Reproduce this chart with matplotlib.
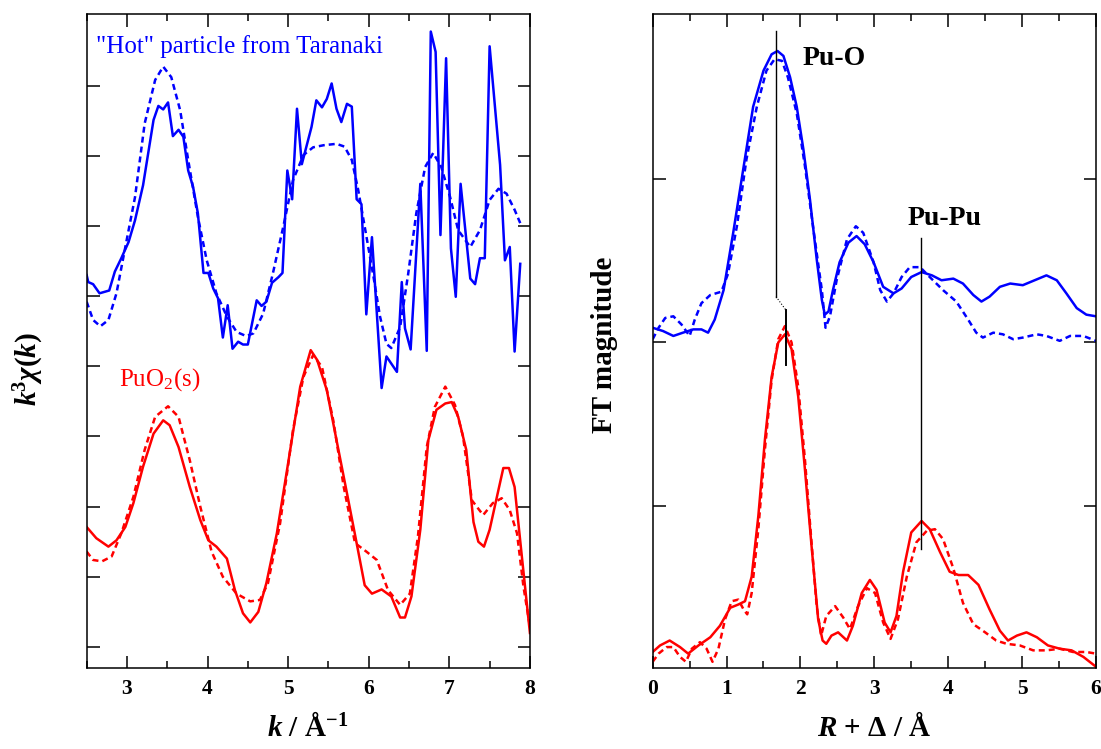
import matplotlib.pyplot as plt
from matplotlib.ticker import MultipleLocator

plt.rcParams['font.family'] = ['Liberation Serif', 'DejaVu Serif']
plt.rcParams['mathtext.fontset'] = 'custom'
plt.rcParams['mathtext.rm'] = 'Liberation Serif'
plt.rcParams['mathtext.it'] = 'Liberation Serif:italic'
plt.rcParams['mathtext.bf'] = 'Liberation Serif:bold'
plt.rcParams['mathtext.bfit'] = 'Liberation Serif:italic:bold'

# ---- k-space (left): "hot" particle, data (solid) and fit (dashed) ----
hot_k = [2.50, 2.52, 2.58, 2.66, 2.78, 2.85, 2.93, 3.02, 3.10, 3.20,
         3.33, 3.39, 3.45, 3.51, 3.57, 3.64, 3.70, 3.76, 3.82, 3.88,
         3.95, 4.01, 4.07, 4.13, 4.19, 4.25, 4.31, 4.38, 4.44, 4.50,
         4.61, 4.67, 4.73, 4.80, 4.88, 4.93, 4.99, 5.05, 5.11, 5.17,
         5.29, 5.35, 5.42, 5.48, 5.54, 5.60, 5.66, 5.73, 5.79, 5.85,
         5.91, 5.97, 6.04, 6.16, 6.22, 6.35, 6.41, 6.45, 6.52, 6.64,
         6.72, 6.77, 6.83, 6.89, 6.96, 7.02, 7.08, 7.14, 7.26, 7.32,
         7.38, 7.44, 7.50, 7.63, 7.69, 7.75, 7.81, 7.88]
hot_chi = [5.30, 5.20, 5.17, 5.04, 5.08, 5.35, 5.54, 5.77, 6.08, 6.58,
           7.51, 7.71, 7.66, 7.76, 7.28, 7.37, 7.27, 6.79, 6.56, 6.18,
           5.33, 5.33, 5.11, 4.97, 4.41, 4.87, 4.25, 4.35, 4.31, 4.31,
           4.94, 4.86, 4.92, 5.19, 5.27, 5.33, 6.79, 6.38, 7.67, 6.88,
           7.41, 7.79, 7.69, 7.81, 8.03, 7.67, 7.48, 7.74, 7.70, 6.38,
           6.31, 4.74, 5.84, 3.69, 4.14, 3.92, 5.20, 4.54, 4.24, 6.60,
           4.22, 8.77, 8.48, 5.87, 8.39, 5.68, 4.99, 6.60, 5.25, 5.17,
           5.54, 5.54, 8.56, 6.87, 5.51, 5.70, 4.21, 5.46]

hot_fit_k = [2.50, 2.58, 2.67, 2.77, 2.87, 2.98, 3.10, 3.22, 3.35, 3.45,
             3.55, 3.66, 3.76, 3.88, 3.99, 4.11, 4.24, 4.36, 4.48, 4.57,
             4.69, 4.81, 4.94, 5.06, 5.19, 5.31, 5.44, 5.60, 5.70, 5.79,
             5.87, 5.95, 6.06, 6.14, 6.22, 6.28, 6.39, 6.49, 6.59, 6.70,
             6.80, 6.90, 7.01, 7.11, 7.26, 7.38, 7.50, 7.61, 7.71, 7.81,
             7.88]
hot_fit_chi = [4.92, 4.66, 4.57, 4.66, 5.04, 5.70, 6.41, 7.46, 8.08, 8.27,
               8.12, 7.65, 6.94, 6.13, 5.51, 5.04, 4.71, 4.49, 4.43, 4.47,
               4.75, 5.32, 5.99, 6.65, 7.01, 7.12, 7.15, 7.17, 7.13, 6.94,
               6.51, 5.99, 5.27, 4.71, 4.32, 4.26, 4.56, 5.32, 6.18, 6.84,
               7.04, 6.84, 6.41, 5.94, 5.70, 5.94, 6.37, 6.53, 6.46, 6.23,
               6.04]

# ---- k-space (left): PuO2(s) reference, data (solid) and fit (dashed) ----
puo2_k = [2.50, 2.62, 2.77, 2.87, 2.98, 3.08, 3.20, 3.33, 3.45, 3.53,
          3.64, 3.78, 3.91, 4.01, 4.11, 4.24, 4.34, 4.44, 4.53, 4.63,
          4.73, 4.86, 5.00, 5.15, 5.28, 5.36, 5.48, 5.60, 5.73, 5.85,
          5.95, 6.04, 6.16, 6.28, 6.39, 6.45, 6.53, 6.64, 6.74, 6.84,
          6.95, 7.03, 7.11, 7.21, 7.30, 7.36, 7.43, 7.50, 7.61, 7.67,
          7.74, 7.81, 7.90, 8.00]
puo2_chi = [1.71, 1.55, 1.43, 1.52, 1.71, 2.05, 2.57, 3.04, 3.23, 3.16,
            2.85, 2.28, 1.81, 1.52, 1.43, 1.26, 0.81, 0.48, 0.35, 0.50,
            0.91, 1.62, 2.62, 3.71, 4.23, 4.09, 3.66, 2.95, 2.19, 1.48,
            0.88, 0.76, 0.82, 0.72, 0.42, 0.42, 0.72, 1.67, 2.95, 3.38,
            3.47, 3.49, 3.28, 2.81, 1.78, 1.50, 1.43, 1.67, 2.24, 2.55,
            2.55, 2.28, 1.29, 0.20]

puo2_fit_k = [2.50, 2.58, 2.69, 2.81, 2.93, 3.08, 3.22, 3.35, 3.51, 3.64,
              3.78, 3.91, 4.05, 4.19, 4.36, 4.53, 4.65, 4.75, 4.90, 5.06,
              5.19, 5.31, 5.42, 5.56, 5.69, 5.83, 5.97, 6.10, 6.24, 6.39,
              6.51, 6.61, 6.72, 6.82, 6.95, 7.07, 7.17, 7.28, 7.42, 7.54,
              7.65, 7.75, 7.84, 7.92, 8.00]
puo2_fit_chi = [1.36, 1.24, 1.22, 1.29, 1.62, 2.14, 2.81, 3.28, 3.43, 3.28,
                2.66, 2.00, 1.36, 1.00, 0.76, 0.65, 0.67, 0.91, 1.76, 3.09,
                3.85, 4.16, 3.99, 3.23, 2.28, 1.48, 1.36, 1.24, 0.81, 0.60,
                0.76, 1.57, 2.85, 3.42, 3.71, 3.45, 3.00, 2.09, 1.88, 2.05,
                2.12, 1.95, 1.62, 0.86, 0.29]

# ---- R-space (right): Fourier transform magnitudes ----
hot_r = [0.00, 0.14, 0.28, 0.41, 0.55, 0.66, 0.75, 0.84, 0.96, 1.09,
         1.23, 1.36, 1.50, 1.61, 1.69, 1.77, 1.86, 1.95, 2.04, 2.13,
         2.22, 2.29, 2.33, 2.38, 2.44, 2.53, 2.65, 2.76, 2.87, 2.99,
         3.12, 3.26, 3.37, 3.50, 3.64, 3.78, 3.91, 4.07, 4.20, 4.34,
         4.45, 4.56, 4.70, 4.84, 5.01, 5.17, 5.33, 5.47, 5.60, 5.74,
         5.87, 6.00]
hot_ft = [2.09, 2.07, 2.04, 2.06, 2.08, 2.08, 2.06, 2.14, 2.32, 2.67,
          3.07, 3.44, 3.66, 3.76, 3.78, 3.75, 3.62, 3.44, 3.18, 2.87,
          2.51, 2.26, 2.17, 2.19, 2.32, 2.49, 2.61, 2.65, 2.60, 2.49,
          2.34, 2.30, 2.33, 2.40, 2.43, 2.41, 2.38, 2.39, 2.36, 2.29,
          2.25, 2.28, 2.34, 2.36, 2.35, 2.38, 2.41, 2.38, 2.30, 2.21,
          2.17, 2.16]

hot_fit_r = [0.00, 0.08, 0.17, 0.28, 0.39, 0.50, 0.57, 0.66, 0.78, 0.93,
             1.02, 1.14, 1.27, 1.41, 1.54, 1.65, 1.75, 1.83, 1.95, 2.06,
             2.17, 2.29, 2.34, 2.40, 2.49, 2.63, 2.75, 2.85, 2.99, 3.08,
             3.17, 3.26, 3.37, 3.48, 3.62, 3.75, 3.93, 4.11, 4.27, 4.38,
             4.47, 4.61, 4.74, 4.88, 5.01, 5.20, 5.33, 5.51, 5.65, 5.83,
             6.00]
hot_fit_ft = [2.02, 2.09, 2.15, 2.16, 2.11, 2.04, 2.14, 2.24, 2.29, 2.31,
              2.42, 2.71, 3.12, 3.44, 3.66, 3.73, 3.72, 3.62, 3.40, 3.08,
              2.71, 2.32, 2.09, 2.16, 2.38, 2.63, 2.71, 2.67, 2.49, 2.32,
              2.25, 2.30, 2.40, 2.46, 2.46, 2.40, 2.32, 2.25, 2.14, 2.06,
              2.03, 2.06, 2.05, 2.02, 2.03, 2.05, 2.04, 2.01, 2.04, 2.04,
              2.01]

puo2_r = [0.00, 0.10, 0.23, 0.37, 0.48, 0.62, 0.78, 0.91, 1.05, 1.16,
          1.25, 1.34, 1.43, 1.52, 1.61, 1.70, 1.79, 1.88, 1.97, 2.06,
          2.15, 2.24, 2.30, 2.35, 2.42, 2.51, 2.63, 2.71, 2.83, 2.94,
          3.03, 3.14, 3.22, 3.30, 3.39, 3.50, 3.64, 3.75, 3.89, 4.02,
          4.14, 4.27, 4.41, 4.56, 4.70, 4.81, 4.93, 5.06, 5.20, 5.35,
          5.51, 5.67, 5.83, 6.00]
puo2_ft = [0.11, 0.15, 0.18, 0.14, 0.10, 0.15, 0.20, 0.27, 0.38, 0.40,
           0.42, 0.57, 0.94, 1.41, 1.79, 2.00, 2.05, 1.96, 1.67, 1.23,
           0.76, 0.31, 0.18, 0.16, 0.21, 0.23, 0.18, 0.27, 0.47, 0.55,
           0.49, 0.29, 0.23, 0.33, 0.60, 0.84, 0.91, 0.86, 0.72, 0.60,
           0.58, 0.58, 0.52, 0.37, 0.24, 0.18, 0.21, 0.23, 0.20, 0.15,
           0.13, 0.12, 0.08, 0.02]

puo2_fit_r = [0.00, 0.08, 0.19, 0.28, 0.37, 0.45, 0.53, 0.64, 0.73, 0.81,
              0.89, 0.98, 1.07, 1.16, 1.23, 1.28, 1.34, 1.43, 1.52, 1.61,
              1.70, 1.79, 1.88, 1.97, 2.06, 2.15, 2.22, 2.28, 2.35, 2.47,
              2.58, 2.67, 2.78, 2.90, 3.01, 3.12, 3.22, 3.32, 3.44, 3.57,
              3.71, 3.82, 3.93, 4.07, 4.20, 4.34, 4.50, 4.65, 4.79, 4.97,
              5.15, 5.33, 5.51, 5.69, 5.87, 6.00]
puo2_fit_ft = [0.05, 0.10, 0.14, 0.14, 0.08, 0.05, 0.13, 0.17, 0.13, 0.05,
               0.13, 0.31, 0.42, 0.43, 0.37, 0.34, 0.47, 0.86, 1.35, 1.77,
               2.02, 2.10, 2.00, 1.73, 1.29, 0.78, 0.39, 0.21, 0.33, 0.39,
               0.32, 0.25, 0.39, 0.50, 0.47, 0.29, 0.19, 0.31, 0.57, 0.78,
               0.85, 0.86, 0.80, 0.62, 0.41, 0.28, 0.23, 0.18, 0.16, 0.15,
               0.12, 0.12, 0.13, 0.11, 0.11, 0.10]

# peak marker lines (R, FT magnitude)
puo_marker_r = [1.67, 1.67, 1.80, 1.80]
puo_marker_ft = [3.90, 2.28, 2.20, 1.86]
pupu_marker_r = [3.63, 3.63]
pupu_marker_ft = [2.64, 0.74]

BLUE = "#0000ff"
RED = "#ff0000"
LW = 1.8
DASH = (0, (2.4, 1.6))


def style_axes(ax):
    ax.tick_params(which="both", direction="in", top=True, right=True,
                   width=1.1, labelsize=15.5, pad=8)
    ax.tick_params(which="major", length=9)
    ax.tick_params(which="minor", length=5)
    ax.tick_params(axis="y", labelleft=False)
    for lab in ax.get_xticklabels():
        lab.set_fontweight("bold")
    for sp in ax.spines.values():
        sp.set_linewidth(1.1)


fig = plt.figure(figsize=(11.01, 7.49), dpi=100)
ax_k = fig.add_axes([0.0787, 0.1081, 0.4026, 0.8732])
ax_r = fig.add_axes([0.5928, 0.1081, 0.4026, 0.8732])

# -------- k-space --------
ax_k.plot(puo2_k, puo2_chi, color=RED, lw=LW)
ax_k.plot(puo2_fit_k, puo2_fit_chi, color=RED, lw=LW, linestyle=DASH)
ax_k.plot(hot_k, hot_chi, color=BLUE, lw=LW)
ax_k.plot(hot_fit_k, hot_fit_chi, color=BLUE, lw=LW, linestyle=DASH)
ax_k.set_xlim(2.5, 8)
ax_k.set_ylim(-0.30, 9.02)
ax_k.xaxis.set_major_locator(MultipleLocator(1))
ax_k.xaxis.set_minor_locator(MultipleLocator(0.5))
ax_k.set_yticks(range(0, 9))
style_axes(ax_k)

ax_k.text(2.62, 8.46, '"Hot" particle from Taranaki', color=BLUE,
          fontsize=18, va="baseline")
ax_k.text(2.90, 3.73, "PuO$_2$(s)", color=RED, fontsize=18, va="baseline")

# -------- R-space --------
ax_r.plot(puo2_r, puo2_ft, color=RED, lw=LW)
ax_r.plot(puo2_fit_r, puo2_fit_ft, color=RED, lw=LW, linestyle=DASH)
ax_r.plot(hot_r, hot_ft, color=BLUE, lw=LW)
ax_r.plot(hot_fit_r, hot_fit_ft, color=BLUE, lw=LW, linestyle=DASH)

ax_r.plot(puo_marker_r[:2], puo_marker_ft[:2], color="black", lw=1.0)
ax_r.plot(puo_marker_r[1:3], puo_marker_ft[1:3], color="black", lw=0.8,
          linestyle=":")
ax_r.plot(puo_marker_r[2:], puo_marker_ft[2:], color="black", lw=1.4)
ax_r.plot(pupu_marker_r, pupu_marker_ft, color="black", lw=1.0)

ax_r.text(2.03, 3.695, "Pu-O", fontsize=20, fontweight="bold",
          va="baseline")
ax_r.text(3.45, 2.72, "Pu-Pu", fontsize=20, fontweight="bold",
          va="baseline")

ax_r.set_xlim(0, 6)
ax_r.set_ylim(0.012, 4.006)
ax_r.xaxis.set_major_locator(MultipleLocator(1))
ax_r.xaxis.set_minor_locator(MultipleLocator(0.5))
ax_r.set_yticks([1, 2, 3])
style_axes(ax_r)

# -------- axis labels --------
fig.text(308 / 1101, 1 - 728 / 749, r"$\mathbfit{k}$ / Å$^{\mathbf{-1}}$",
         ha="center", va="center", fontsize=21, fontweight="bold")
fig.text(874 / 1101, 1 - 728 / 749, r"$\mathbfit{R}$ + Δ / Å",
         ha="center", va="center", fontsize=21, fontweight="bold")
fig.text(29 / 1101, 1 - 369 / 749,
         r"$\mathbfit{k}^{\mathbf{3}}\mathbfit{χ}\mathbf{(}\mathbfit{k}\mathbf{)}$",
         ha="center", va="center", rotation=90, fontsize=21)
fig.text(605 / 1101, 1 - 345 / 749, "FT magnitude", ha="center",
         va="center", rotation=90, fontsize=21, fontweight="bold")

fig.savefig("out.png", dpi=100)
